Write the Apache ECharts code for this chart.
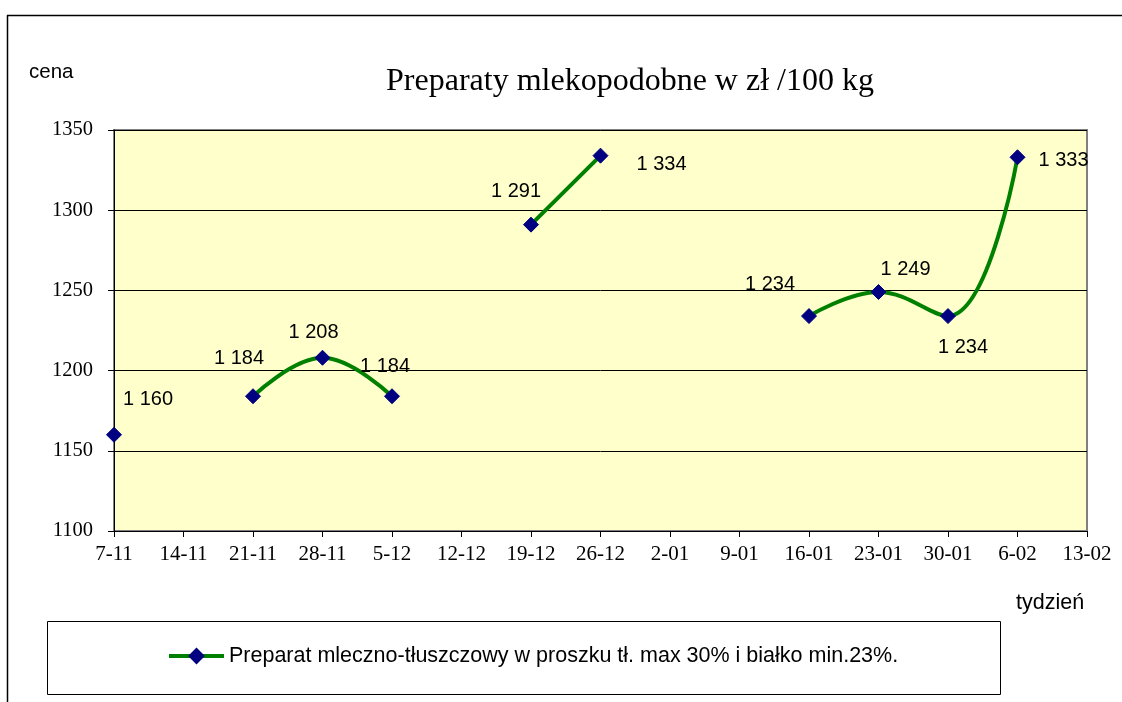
<!DOCTYPE html>
<html><head><meta charset="utf-8">
<script src="https://cdn.jsdelivr.net/npm/echarts@6/dist/echarts.min.js"></script>
<style>html,body{margin:0;padding:0;background:#fff}#c{width:1122px;height:702px}</style>
</head><body><div id="c"></div>
<script>
const weeks = ['7-11','14-11','21-11','28-11','5-12','12-12','19-12','26-12','2-01','9-01','16-01','23-01','30-01','6-02','13-02'];
const prices = [1160, null, 1184, 1208, 1184, null, 1291, 1334, null, null, 1234, 1249, 1234, 1333, null];
const yTicks = [1100, 1150, 1200, 1250, 1300, 1350];
const seriesName = 'Preparat mleczno-tłuszczowy w proszku tł. max 30% i białko min.23%.';
const titleText = 'Preparaty mlekopodobne w zł /100 kg';
const yLabel = 'cena';
const xLabel = 'tydzień';
// label offsets (style only)
const labelOffsets = [[34,-35],null,[-14,-38],[-9,-25],[-7,-30],null,[-15,-33],[61,9],null,null,[-39,-32],[27,-23],[15,31],[46,3],null];

const fmt = v => String(v).replace(/\B(?=(\d{3})+(?!\d))/g, ' ');

const data = prices.map((v, i) => v == null ? null : {
  value: v,
  label: { show: true, position: 'inside', offset: labelOffsets[i] }
});

const chart = echarts.init(document.getElementById('c'));
chart.setOption({
  animation: false,
  backgroundColor: '#fff',
  title: {
    text: titleText, left: 625, top: 61, textAlign: 'center',
    textStyle: { fontFamily: 'Liberation Serif', fontSize: 32, fontWeight: 'normal', color: '#000' }
  },
  grid: { left: 114, right: 35, top: 130, bottom: 171, show: true, backgroundColor: '#FFFFCC', borderColor: '#808080', borderWidth: 2 },
  legend: {
    show: true, left: 167, top: 645, padding: 0, itemWidth: 55, itemHeight: 21, itemGap: 5,
    textStyle: { fontFamily: 'Liberation Sans', fontSize: 21.5, color: '#000' },
    data: [{ name: seriesName, lineStyle: { width: 4, color: '#008000' } }]
  },
  xAxis: {
    type: 'category', data: weeks, boundaryGap: false,
    axisLine: { lineStyle: { color: '#000', width: 1 } },
    axisTick: { show: true, alignWithLabel: true, length: 6, lineStyle: { color: '#000' }, interval: 0 },
    axisLabel: { interval: 0, fontFamily: 'Liberation Serif', fontSize: 21, color: '#000', margin: 13 },
    splitLine: { show: false }
  },
  yAxis: {
    type: 'value', min: yTicks[0], max: yTicks[yTicks.length - 1], interval: 50,
    axisLine: { show: true, lineStyle: { color: '#000', width: 1 } },
    axisTick: { show: true, length: 6, lineStyle: { color: '#000' } },
    axisLabel: { fontFamily: 'Liberation Serif', fontSize: 20.5, color: '#000', margin: 21, formatter: v => String(v) },
    splitLine: { show: true, lineStyle: { color: '#000', width: 1 } }
  },
  series: [{
    name: seriesName, type: 'line', data: data, smooth: 0.42, connectNulls: false,
    symbol: 'diamond', symbolSize: 15,
    lineStyle: { color: '#008000', width: 4 },
    itemStyle: { color: '#000080', borderColor: '#000080' },
    label: { show: true, fontFamily: 'Liberation Sans', fontSize: 20, color: '#000', formatter: p => fmt(p.value) },
    emphasis: { disabled: true }
  }],
  graphic: [
    { type: 'line', shape: { x1: 7, y1: 15.5, x2: 1122, y2: 15.5 }, style: { stroke: '#000', lineWidth: 1.5 } },
    { type: 'line', shape: { x1: 7.5, y1: 15, x2: 7.5, y2: 702 }, style: { stroke: '#000', lineWidth: 1.5 } },
    { type: 'rect', shape: { x: 47.5, y: 621.5, width: 953, height: 73 }, style: { fill: 'none', stroke: '#000', lineWidth: 1 } },
    { type: 'text', left: 29, top: 62, style: { text: yLabel, font: '20.5px "Liberation Sans"', fill: '#000' } },
    { type: 'text', left: 1016, top: 592, style: { text: xLabel, font: '21.5px "Liberation Sans"', fill: '#000' } }
  ]
});
</script></body></html>
